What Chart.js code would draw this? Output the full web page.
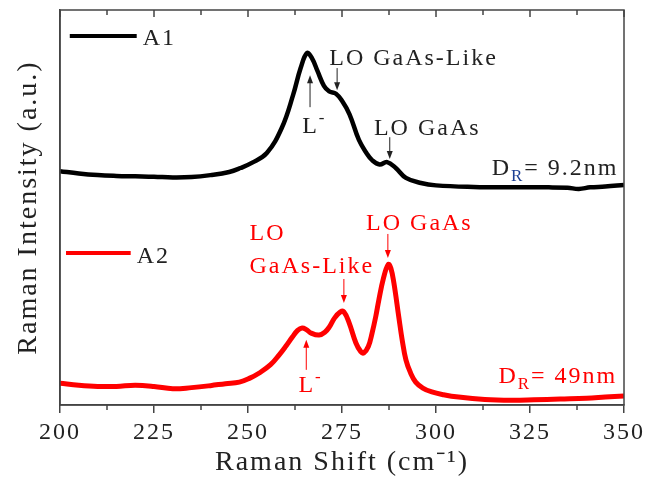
<!DOCTYPE html>
<html>
<head>
<meta charset="utf-8">
<script src="https://cdn.jsdelivr.net/npm/chart.js@4.4.0/dist/chart.umd.min.js"></script>
<style>
  html, body { margin: 0; padding: 0; background: #fff; }
  #wrap { width: 647px; height: 479px; }
</style>
</head>
<body>
<div id="wrap"><canvas id="myChart" width="647" height="479"></canvas></div>
<script>
// Raman spectra, two samples
const shiftA1 = [200, 205, 210, 215, 220, 225, 230, 235, 240, 245, 248, 251, 255, 259, 262, 264, 265.7, 267, 268.5, 270.2,
  271.6, 273.4, 275, 277, 279.5, 281.5, 283, 285, 287, 289.3, 292, 296, 300, 310, 320, 330, 335, 338, 341, 345, 350];
const intensityA1 = [59.2, 58.6, 58.2, 58.0, 57.9, 57.8, 57.6, 57.7, 58.2, 59.0, 60.0, 61.3, 63.8, 70.2, 78.5, 85.3, 89.1, 87.8, 84.5, 80.8,
  79.4, 78.8, 77.0, 73.6, 67.1, 63.8, 62.0, 60.9, 61.5, 60.0, 57.5, 56.2, 55.6, 55.2, 55.1, 55.1, 55.0, 54.7, 55.1, 55.3, 55.7];

const shiftA2 = [200, 205, 210, 215, 220, 225, 230, 235, 240, 244, 247.7, 250.5, 253, 256, 258.3, 260, 261.8, 263.2, 264.4,
  265.5, 266.8, 268.9, 270.5, 271.6, 273, 274.5, 275.5, 276.9, 278.7, 280, 280.8, 282, 283, 284, 284.8, 286, 287.3, 288, 288.8,
  290.1, 291, 292, 293.2, 294.6, 296.5, 298.9, 302, 306, 313, 320, 326, 333, 340, 345, 350];
const intensityA2 = [5.5, 5.0, 4.7, 4.7, 5.0, 4.7, 4.1, 4.4, 4.9, 5.4, 5.8, 6.8, 8.1, 10.2, 12.7, 14.8, 17.2, 18.9, 19.5,
  19.1, 18.2, 17.7, 18.5, 19.7, 22.0, 23.5, 23.6, 20.8, 15.7, 13.5, 13.2, 14.8, 18.2, 22.5, 26.6, 32.0, 35.6, 34.6, 30.9,
  22.3, 16.5, 11.4, 8.2, 5.8, 4.3, 3.3, 2.6, 2.0, 1.4, 1.2, 1.3, 1.5, 1.7, 2.0, 2.3];

const xTicks = [200, 225, 250, 275, 300, 325, 350];
const sampleNames = ['A1', 'A2'];

const ink = '#222';
const axisInk = '#444';
const red = '#ff0000';
const serif = "'Liberation Serif', 'Times New Roman', Times, serif";

function toPoints(xs, ys) {
  return xs.map((x, i) => ({ x: x, y: ys[i] }));
}

// draws a string made of parts, with sub/superscripts
function drawRich(ctx, parts, x, y, size) {
  let cx = x;
  parts.forEach(p => {
    const s = p.sub || p.sup ? Math.round(size * 0.7) : size;
    ctx.font = s + 'px ' + serif;
    ctx.fillStyle = p.color;
    let dy = 0;
    if (p.sub) dy = 6;
    if (p.sup) dy = -10;
    ctx.fillText(p.t, cx, y + dy);
    cx += ctx.measureText(p.t).width;
  });
}

function arrow(ctx, x, y1, y2, color) {
  const dir = y2 > y1 ? 1 : -1;
  ctx.strokeStyle = color;
  ctx.fillStyle = color;
  ctx.lineWidth = 1;
  ctx.beginPath();
  ctx.moveTo(x, y1);
  ctx.lineTo(x, y2 - dir * 6);
  ctx.stroke();
  ctx.beginPath();
  ctx.moveTo(x, y2);
  ctx.lineTo(x - 3, y2 - dir * 8);
  ctx.lineTo(x + 3, y2 - dir * 8);
  ctx.closePath();
  ctx.fill();
}

const decorations = {
  id: 'decorations',
  beforeDraw(chart) {
    chart.ctx.letterSpacing = '2px';
  },
  afterDraw(chart) {
    const ctx = chart.ctx;
    const xs = chart.scales.x, ys = chart.scales.y;
    const a = chart.chartArea;
    const X = v => xs.getPixelForValue(v);
    const Y = v => ys.getPixelForValue(v);
    ctx.save();
    ctx.letterSpacing = '2px';

    // frame
    ctx.strokeStyle = axisInk;
    ctx.lineWidth = 1.5;
    ctx.strokeRect(a.left, a.top, a.right - a.left, a.bottom - a.top);

    // minor ticks on bottom, all ticks on top (inward)
    ctx.lineWidth = 1.5;
    ctx.beginPath();
    for (let i = 0; i < xTicks.length; i++) {
      const px = X(xTicks[i]);
      ctx.moveTo(px, a.top);
      ctx.lineTo(px, a.top + 7);
      if (i < xTicks.length - 1) {
        const mx = X((xTicks[i] + xTicks[i + 1]) / 2);
        ctx.moveTo(mx, a.bottom);
        ctx.lineTo(mx, a.bottom + 5);
        ctx.moveTo(mx, a.top);
        ctx.lineTo(mx, a.top + 5);
      }
    }
    ctx.stroke();

    // legend entries
    const ds = chart.data.datasets;
    const legendPos = [{ x1: 202.6, x2: 220.4, y: 93.4, ty: 91.1 }, { x1: 201.6, x2: 218.8, y: 38.5, ty: 35.9 }];
    ds.forEach((d, i) => {
      const p = legendPos[i];
      ctx.strokeStyle = d.borderColor;
      ctx.lineWidth = 4;
      ctx.beginPath();
      ctx.moveTo(X(p.x1), Y(p.y));
      ctx.lineTo(X(p.x2), Y(p.y));
      ctx.stroke();
      ctx.font = '24px ' + serif;
      ctx.fillStyle = ink;
      ctx.textBaseline = 'alphabetic';
      ctx.textAlign = 'left';
      ctx.fillText(d.label, X(p.x2) + 6, Y(p.ty));
    });

    // peak labels, A1
    ctx.textAlign = 'left';
    ctx.textBaseline = 'alphabetic';
    drawRich(ctx, [{ t: 'LO GaAs-Like', color: ink }], X(271.6), Y(86.1), 24);
    arrow(ctx, X(273.7), Y(85.3), Y(79.7), ink);
    drawRich(ctx, [{ t: 'L', color: ink }, { t: '-', sup: true, color: ink }], X(264.4), Y(68.9), 24);
    arrow(ctx, X(266.5), Y(75.4), Y(83.5), ink);
    drawRich(ctx, [{ t: 'LO GaAs', color: ink }], X(283.5), Y(68.4), 24);
    arrow(ctx, X(287.7), Y(67.8), Y(62.3), ink);
    drawRich(ctx, [{ t: 'D', color: ink }, { t: 'R', sub: true, color: '#1c3f94' }, { t: '= 9.2nm', color: ink }], X(314.8), Y(58.2), 24);

    // peak labels, A2
    drawRich(ctx, [{ t: 'LO', color: red }], X(250.4), Y(41.8), 24);
    drawRich(ctx, [{ t: 'GaAs-Like', color: red }], X(250.4), Y(33.4), 24);
    arrow(ctx, X(275.5), Y(31.9), Y(25.8), red);
    drawRich(ctx, [{ t: 'LO GaAs', color: red }], X(281.4), Y(44.3), 24);
    arrow(ctx, X(287.2), Y(43.3), Y(37.2), red);
    drawRich(ctx, [{ t: 'L', color: red }, { t: '-', sup: true, color: red }], X(263.4), Y(3.3), 24);
    arrow(ctx, X(265.5), Y(8.9), Y(16.5), red);
    drawRich(ctx, [{ t: 'D', color: red }, { t: 'R', sub: true, color: red }, { t: '= 49nm', color: red }], X(316.6), Y(5.6), 24);

    ctx.restore();
  }
};

const ctx = document.getElementById('myChart').getContext('2d');
new Chart(ctx, {
  type: 'line',
  data: {
    datasets: [{
      label: sampleNames[0],
      data: toPoints(shiftA1, intensityA1),
      borderColor: '#000',
      borderWidth: 4.5,
      pointRadius: 0,
      tension: 0.4,
      fill: false
    }, {
      label: sampleNames[1],
      data: toPoints(shiftA2, intensityA2),
      borderColor: red,
      borderWidth: 5,
      pointRadius: 0,
      tension: 0.4,
      fill: false
    }]
  },
  options: {
    responsive: false,
    animation: false,
    layout: { padding: { top: 10, right: 21, left: 0, bottom: 0 } },
    plugins: { legend: { display: false }, tooltip: { enabled: false } },
    scales: {
      x: {
        type: 'linear',
        min: 200,
        max: 350,
        afterBuildTicks: s => { s.ticks = xTicks.map(v => ({ value: v })); },
        afterFit: s => { s.height = 74; },
        grid: { display: true, drawOnChartArea: false, tickLength: 8, color: axisInk, lineWidth: 1.5 },
        border: { color: axisInk, width: 1.5 },
        ticks: { color: ink, padding: 5, maxRotation: 0, font: { family: serif, size: 24 } },
        title: {
          display: true,
          text: 'Raman Shift (cm\u207B\u00B9)',
          color: ink,
          font: { family: serif, size: 28 },
          padding: { top: 0, bottom: 0 }
        }
      },
      y: {
        min: 0,
        max: 100,
        afterFit: s => { s.width = 60; },
        grid: { display: false },
        border: { color: axisInk, width: 1.5 },
        ticks: { display: false },
        title: {
          display: true,
          text: 'Raman Intensity (a.u.)',
          color: ink,
          font: { family: serif, size: 28 },
          padding: { top: 12, bottom: 0 }
        }
      }
    }
  },
  plugins: [decorations]
});
</script>
</body>
</html>
